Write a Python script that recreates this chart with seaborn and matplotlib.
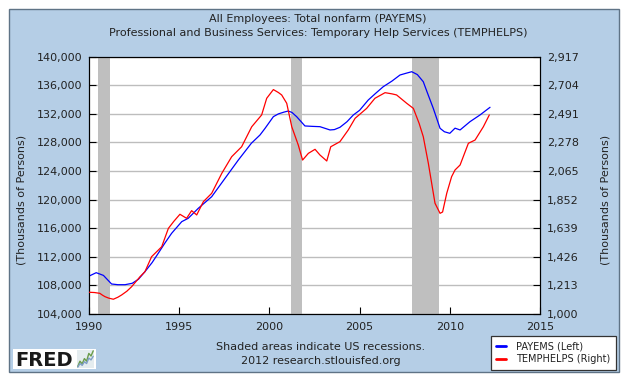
import matplotlib
matplotlib.use("Agg")
import matplotlib.pyplot as plt
from matplotlib.patches import Rectangle
from matplotlib.lines import Line2D
from matplotlib.ticker import FuncFormatter
import seaborn as sns
import pandas as pd

# ---------------- data ----------------
payems_years = [1990.0, 1990.4, 1990.8, 1991.25, 1991.6, 1992.0, 1992.4, 1992.74, 1993.1, 1993.5,
                1993.84, 1994.2, 1994.58, 1995.14, 1995.5, 1996.06, 1996.8, 1997.54, 1998.28, 1999.0,
                1999.48, 1999.76, 2000.22, 2000.5, 2000.81, 2001.05, 2001.25, 2001.51, 2001.97, 2002.4,
                2002.8, 2003.36, 2003.6, 2003.91, 2004.3, 2004.65, 2005.0, 2005.48, 2005.9, 2006.31,
                2006.8, 2007.24, 2007.6, 2007.89, 2008.2, 2008.53, 2008.75, 2009.08, 2009.46, 2009.7,
                2010.0, 2010.29, 2010.57, 2011.12, 2011.67, 2012.23]
payems_values = [109300, 109780, 109400, 108200, 108100, 108100, 108300, 108860, 109920, 111200,
                 112500, 113900, 115290, 116920, 117390, 118790, 120410, 122980, 125550, 127890,
                 129050, 129980, 131610, 132000, 132250, 132400, 132200, 131610, 130310, 130250,
                 130210, 129750, 129800, 130120, 130900, 131840, 132500, 133940, 134900, 135800,
                 136600, 137440, 137700, 137900, 137500, 136500, 135000, 132800, 129980, 129500,
                 129280, 130000, 129750, 130910, 131840, 132920]

temp_years = [1990.0, 1990.3, 1990.6, 1990.75, 1990.89, 1991.1, 1991.35, 1991.6, 1991.81, 1992.1,
              1992.36, 1992.83, 1993.1, 1993.47, 1994.03, 1994.4, 1994.7, 1995.04, 1995.41, 1995.69,
              1995.97, 1996.34, 1996.8, 1997.36, 1997.91, 1998.46, 1999.02, 1999.57, 1999.85, 2000.22,
              2000.5, 2000.68, 2000.96, 2001.24, 2001.6, 2001.84, 2002.16, 2002.53, 2002.8, 2003.18,
              2003.4, 2003.91, 2004.37, 2004.75, 2005.39, 2005.85, 2006.41, 2006.8, 2007.05, 2007.61,
              2007.98, 2008.3, 2008.53, 2008.81, 2009.18, 2009.46, 2009.6, 2009.83, 2010.1, 2010.29,
              2010.57, 2011.03, 2011.4, 2011.86, 2012.19]
temp_values = [1162, 1160, 1154, 1140, 1129, 1118, 1110, 1125, 1142, 1170,
               1203, 1278, 1315, 1427, 1501, 1638, 1690, 1743, 1713, 1770,
               1738, 1837, 1899, 2048, 2172, 2246, 2395, 2483, 2607, 2672,
               2650, 2632, 2570, 2395, 2259, 2147, 2197, 2227, 2185, 2140,
               2246, 2284, 2371, 2458, 2532, 2607, 2649, 2640, 2632, 2570,
               2532, 2420, 2321, 2123, 1825, 1750, 1760, 1899, 2023, 2073,
               2110, 2272, 2296, 2395, 2483]

recession_starts = [1990.5, 2001.17, 2007.92]
recession_ends = [1991.17, 2001.83, 2009.42]

left_ticks = [104000, 108000, 112000, 116000, 120000, 124000, 128000, 132000, 136000, 140000]
right_ticks = [1000, 1213, 1426, 1639, 1852, 2065, 2278, 2491, 2704, 2917]
x_ticks = [1990, 1995, 2000, 2005, 2010, 2015]

title_lines = ["All Employees: Total nonfarm (PAYEMS)",
               "Professional and Business Services: Temporary Help Services (TEMPHELPS)"]
y_label = "(Thousands of Persons)"
note_lines = ["Shaded areas indicate US recessions.", "2012 research.stlouisfed.org"]
legend_labels = ["PAYEMS (Left)", "TEMPHELPS (Right)"]
logo_trend = [1, 3, 2, 4, 3, 6, 5, 7]

# ---------------- styling ----------------
sns.set_theme(style="white")
plt.rcParams["font.family"] = ["DejaVu Sans"]
plt.rcParams["axes.unicode_minus"] = False

W, H = 624, 382
fig = plt.figure(figsize=(W / 100, H / 100), dpi=100)
fig.patch.set_facecolor("white")

PANEL = "#b5cee6"
TXT = "#222222"

def fx(px):
    return px / W

def fy(py):
    return 1 - py / H

# outer blue panel
fig.add_artist(Rectangle((fx(9), fy(372)), fx(610), 363 / H, transform=fig.transFigure,
                         facecolor=PANEL, edgecolor="#5f7386", lw=1.0, zorder=-2))

ax = fig.add_axes([fx(89), fy(314), fx(451), 257.3 / H])
ax.set_facecolor("white")

df_p = pd.DataFrame({"year": payems_years, "value": payems_values})
df_t = pd.DataFrame({"year": temp_years, "value": temp_values})

for s, e in zip(recession_starts, recession_ends):
    ax.axvspan(s, e, color="#bfbfbf", lw=0, zorder=1)

sns.lineplot(data=df_p, x="year", y="value", ax=ax, color="#0000ff", lw=0.9, zorder=3)
ax.set_xlim(1990, 2015)
ax.set_ylim(104000, 140000)
ax.set_yticks(left_ticks)
ax.set_xticks(x_ticks)
ax.yaxis.set_major_formatter(FuncFormatter(lambda v, p: f"{int(round(v)):,}"))
ax.grid(axis="y", color="#bdbdbd", lw=1.0, zorder=0)
ax.grid(axis="x", visible=False)
ax.set_axisbelow(True)
ax.set_xlabel("")
ax.set_ylabel("")
ax.tick_params(axis="both", direction="in", length=5, width=0.8, color="black",
               labelsize=8, labelcolor=TXT)
ax.tick_params(axis="y", pad=4.5, left=True)
ax.tick_params(axis="x", pad=6, bottom=True)

ax2 = ax.twinx()
sns.lineplot(data=df_t, x="year", y="value", ax=ax2, color="#ff0000", lw=0.9, zorder=3)
ax2.set_ylim(1000, 2917)
ax2.set_yticks(right_ticks)
ax2.yaxis.set_major_formatter(FuncFormatter(lambda v, p: f"{int(round(v)):,}"))
ax2.set_ylabel("")
ax2.grid(False)
ax2.tick_params(axis="y", direction="in", length=5, width=0.8, color="black",
                labelsize=8, labelcolor=TXT, pad=5, right=True)

for a in (ax, ax2):
    for sp in a.spines.values():
        sp.set_color("black")
        sp.set_linewidth(0.8)

# titles
fig.text(fx(318), fy(19), title_lines[0], ha="center", va="center", fontsize=8, color=TXT)
fig.text(fx(318), fy(32.5), title_lines[1], ha="center", va="center", fontsize=8, color=TXT)

# axis labels
fig.text(fx(22), fy(200), y_label, rotation=90, ha="center", va="center", fontsize=8, color=TXT)
fig.text(fx(606), fy(200), y_label, rotation=90, ha="center", va="center", fontsize=8, color=TXT)

# notes
fig.text(fx(321), fy(347.5), note_lines[0], ha="center", va="center", fontsize=8, color=TXT)
fig.text(fx(321), fy(361), note_lines[1], ha="center", va="center", fontsize=8, color=TXT)

# legend
hl = [Line2D([], [], color="#0000ff", lw=2), Line2D([], [], color="#ff0000", lw=2)]
leg = fig.legend(hl, legend_labels, loc="lower right", bbox_to_anchor=(fx(616), fy(369.5)),
                 bbox_transform=fig.transFigure, fontsize=7, frameon=True, fancybox=False,
                 edgecolor="#333333", facecolor="white", framealpha=1, borderpad=0.55,
                 handlelength=1.0, handletextpad=1.1, labelspacing=0.3, borderaxespad=0)
leg.get_frame().set_linewidth(0.9)
for t in leg.get_texts():
    t.set_color(TXT)

# FRED logo
fig.add_artist(Rectangle((fx(13), fy(369)), fx(83), 20 / H, transform=fig.transFigure,
                         facecolor="white", edgecolor="none", zorder=-1))
fig.text(fx(15), fy(360), "FRED", ha="left", va="center", fontsize=14, fontweight="heavy",
         color="#1a1a1a", zorder=2)
lax = fig.add_axes([fx(77), fy(368), fx(17), 18 / H])
lax.set_zorder(3)
lax.set_facecolor("#e4ecef")
lax.plot(range(len(logo_trend)), logo_trend, color="#6a9c4a", lw=1)
lax.plot(range(len(logo_trend)), [v * 0.7 for v in logo_trend], color="#7f9fc6", lw=1)
lax.set_xticks([])
lax.set_yticks([])
for sp in lax.spines.values():
    sp.set_visible(False)

fig.savefig("out.png", dpi=100, facecolor="white")
